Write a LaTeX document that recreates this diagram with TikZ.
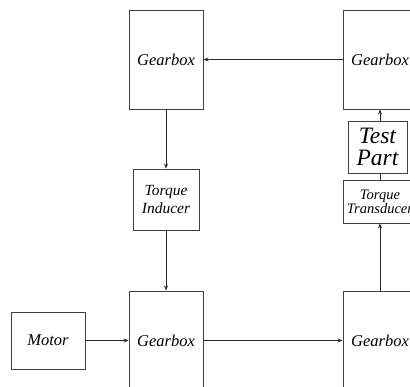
\documentclass[tikz,border=0pt]{standalone}
\usepackage{fontspec}
\setmainfont{Liberation Serif}
\usetikzlibrary{arrows.meta}
\tikzset{
  blk/.style={draw=black!75, line width=0.9pt, fill=white, inner sep=0pt, align=center,
    font=\itshape\fontsize{16.5}{17}\selectfont},
  conn/.style={draw=black!85, line width=0.9pt},
  arr/.style={conn, -{Stealth[length=5pt,width=4pt]}}
}
\begin{document}
\begin{tikzpicture}[x=1pt,y=-1pt]
\useasboundingbox (0,0) rectangle (410,386);
\clip (0,0) rectangle (410,386);
\node[blk, minimum width=74pt, minimum height=99pt] (g1) at (166,59.5) {Gearbox};
\node[blk, minimum width=74pt, minimum height=99pt] (g2) at (380,59.5) {Gearbox};
\node[blk, minimum width=66pt, minimum height=61pt, font=\itshape\fontsize{15.5}{17.5}\selectfont] (ti) at (166,199.5) {Torque\\Inducer};
\node[blk, minimum width=74pt, minimum height=99pt] (g3) at (166,340.5) {Gearbox};
\node[blk, minimum width=74pt, minimum height=99pt] (g4) at (380,340.5) {Gearbox};
\node[blk, minimum width=74pt, minimum height=57pt] (motor) at (48,340.5) {Motor};
\node[blk, minimum width=74pt, minimum height=43pt, font=\itshape\fontsize{14.5}{13}\selectfont] (tt) at (380,201.5) {Torque\\Transducer};
\node[blk, minimum width=59pt, minimum height=52pt, font=\itshape\fontsize{23.5}{22}\selectfont] (tp) at (377.5,147) {Test\\Part};
\draw[arr] (g2.west) -- (g1.east);
\draw[arr] (g1.south) -- (ti.north);
\draw[arr] (ti.south) -- (g3.north);
\draw[arr] (motor.east) -- (g3.west);
\draw[arr] (g3.east) -- (g4.west);
\draw[arr] (g4.north) -- (tt.south);
\draw[conn] (tt.north) -- (tt.north |- tp.south);
\draw[arr] (tp.north -| g2.south) -- (g2.south);
\end{tikzpicture}
\end{document}
